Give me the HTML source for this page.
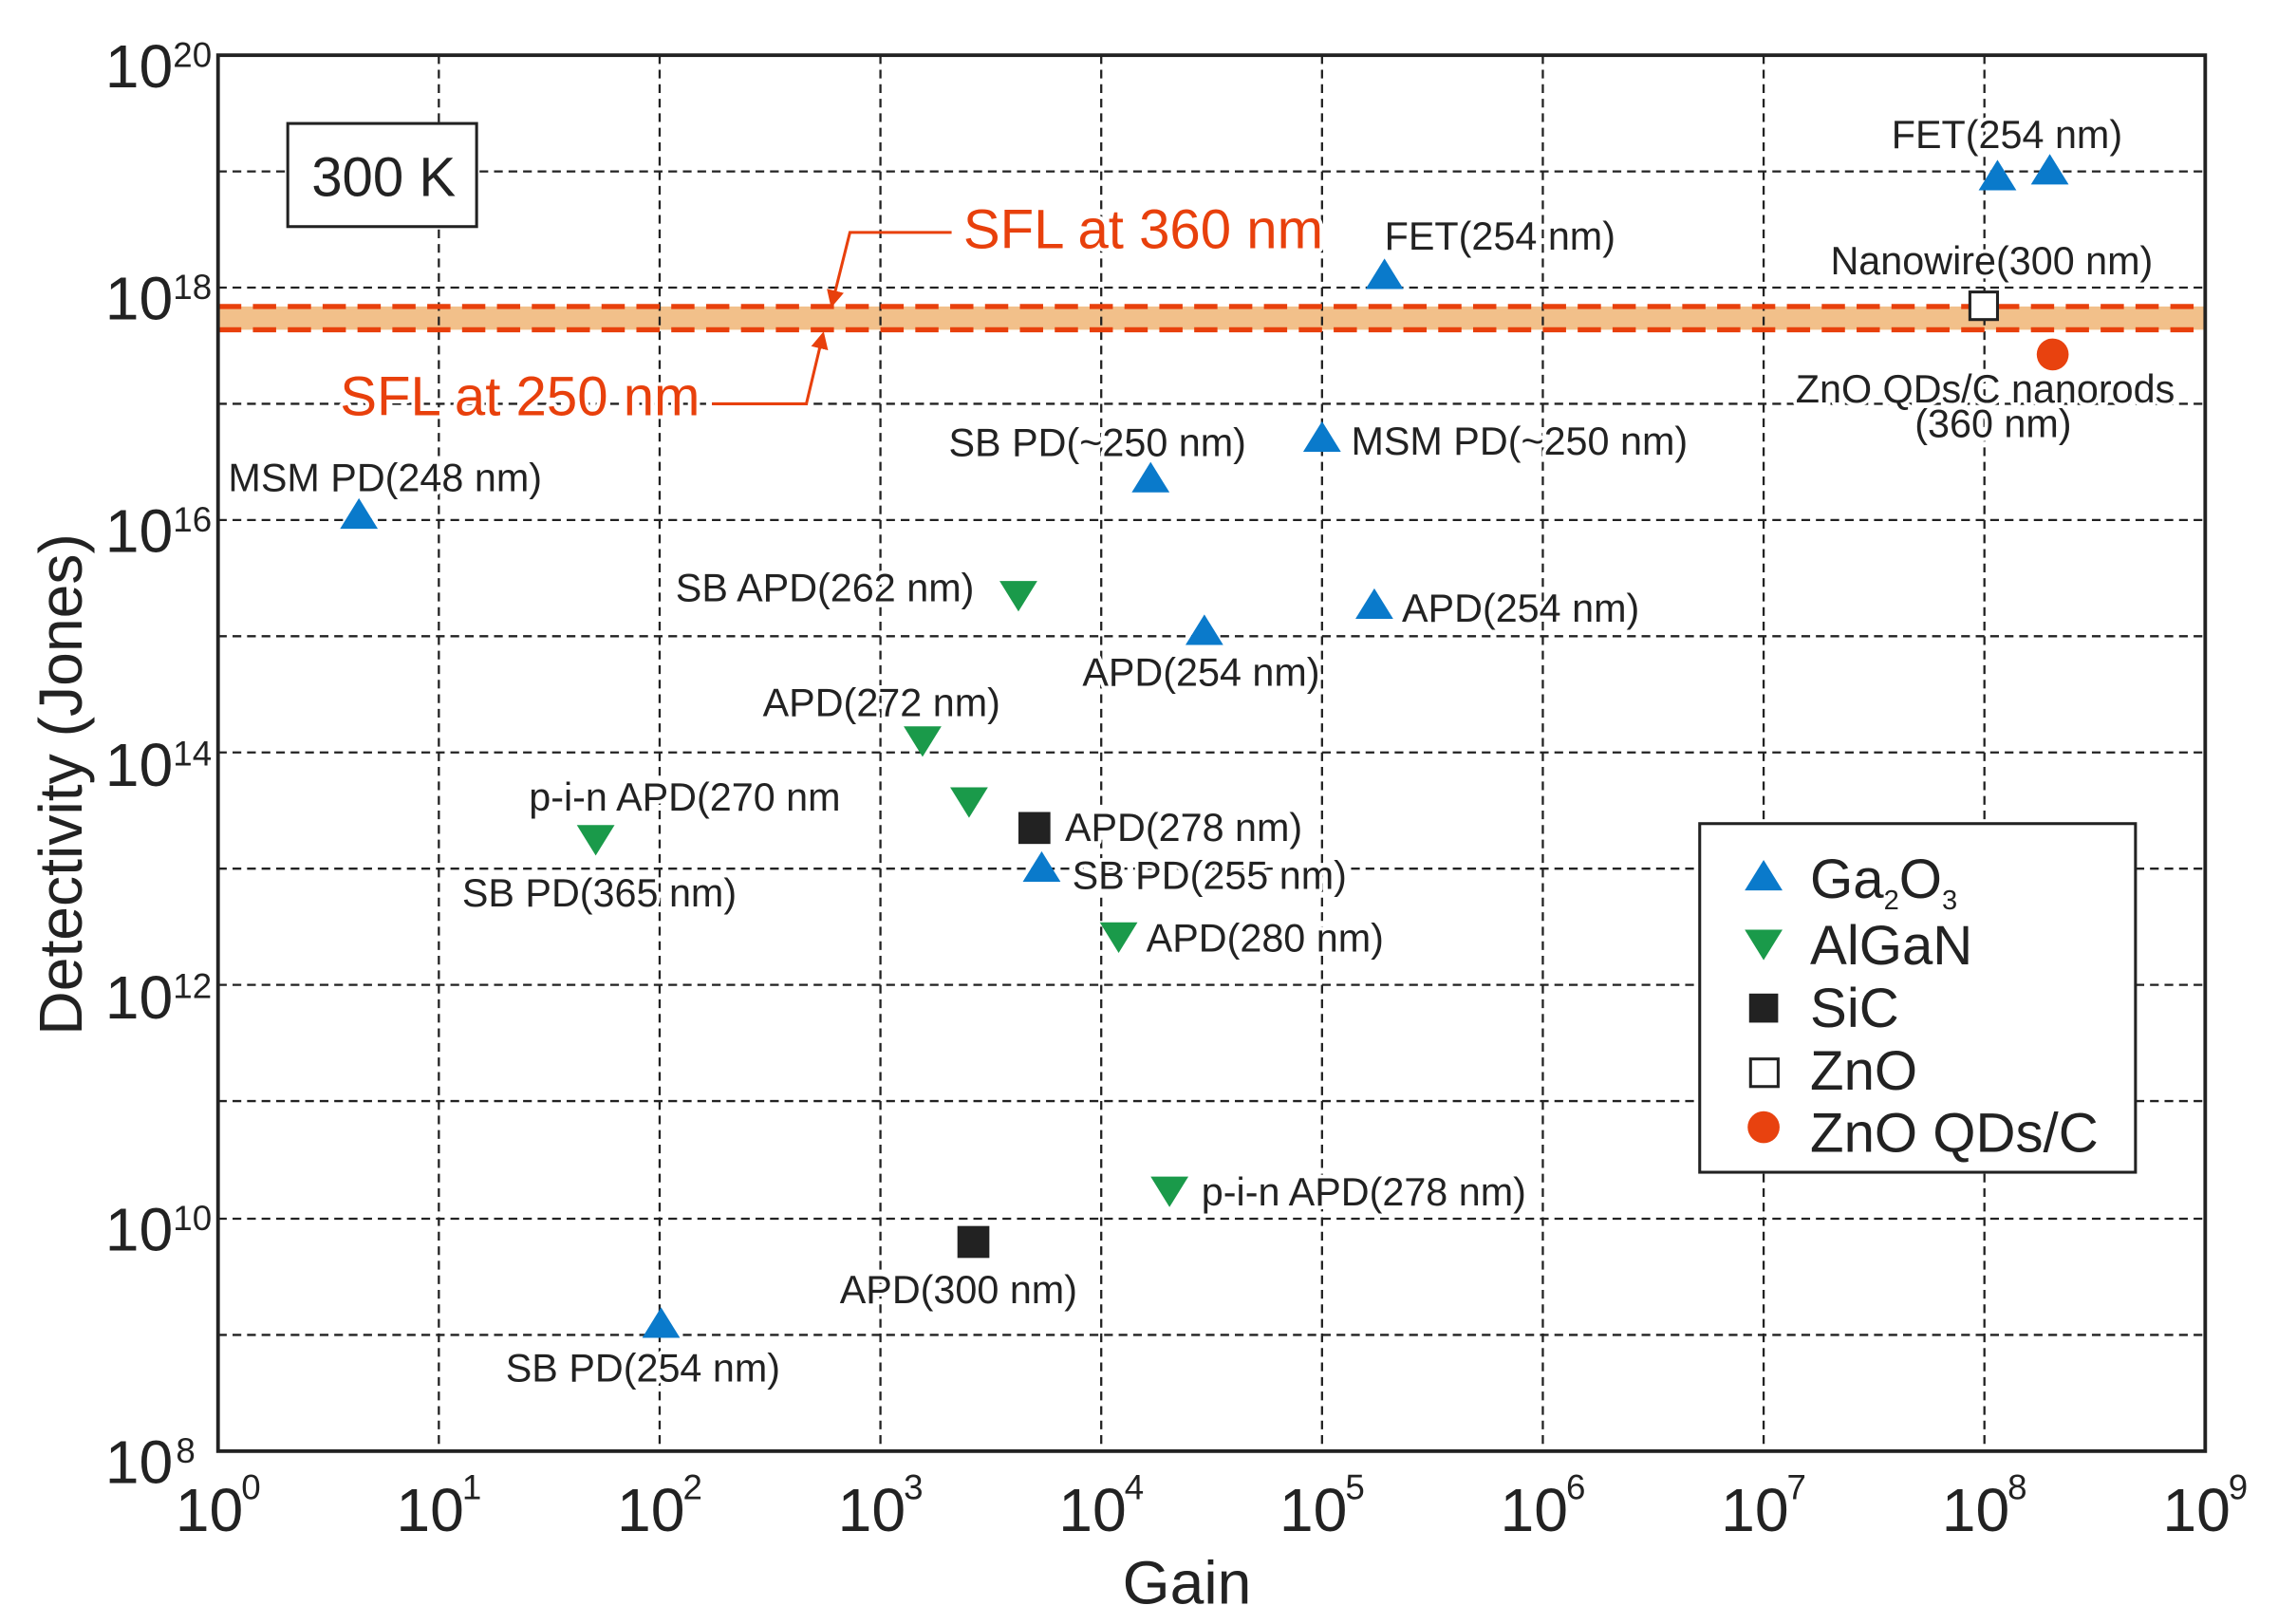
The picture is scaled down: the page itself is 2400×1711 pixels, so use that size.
<!DOCTYPE html>
<html><head><meta charset="utf-8"><style>
html,body{margin:0;padding:0;background:#fff;}
svg{display:block;}
text{font-family:"Liberation Sans",Arial,sans-serif;fill:#222;}
.lb text{paint-order:stroke;stroke:#fff;stroke-width:5px;stroke-linejoin:round;}
</style></head><body>
<svg width="2400" height="1711" viewBox="0 0 1568 1118" xmlns="http://www.w3.org/2000/svg">
<defs>
<marker id="ar" markerWidth="8" markerHeight="8" refX="4" refY="4" orient="auto"><path d="M0,1 L6,4 L0,7 Z" fill="#e8400c"/></marker>
</defs>
<rect x="0" y="0" width="1568" height="1118" fill="#fff"/>
<rect x="150" y="211" width="1368" height="16" fill="#f2c08a"/>
<g stroke="#222" stroke-width="1.5" stroke-dasharray="6,4">
<line x1="302" y1="38" x2="302" y2="999"/><line x1="454" y1="38" x2="454" y2="999"/>
<line x1="606" y1="38" x2="606" y2="999"/><line x1="758" y1="38" x2="758" y2="999"/>
<line x1="910" y1="38" x2="910" y2="999"/><line x1="1062" y1="38" x2="1062" y2="999"/>
<line x1="1214" y1="38" x2="1214" y2="999"/><line x1="1366" y1="38" x2="1366" y2="999"/>
<line x1="150" y1="118" x2="1518" y2="118"/><line x1="150" y1="198" x2="1518" y2="198"/>
<line x1="150" y1="278" x2="1518" y2="278"/><line x1="150" y1="358" x2="1518" y2="358"/>
<line x1="150" y1="438" x2="1518" y2="438"/><line x1="150" y1="518" x2="1518" y2="518"/>
<line x1="150" y1="598" x2="1518" y2="598"/><line x1="150" y1="678" x2="1518" y2="678"/>
<line x1="150" y1="758" x2="1518" y2="758"/><line x1="150" y1="839" x2="1518" y2="839"/>
<line x1="150" y1="919" x2="1518" y2="919"/>
</g>
<g stroke="#e8400c" stroke-width="3.5" stroke-dasharray="16,8">
<line x1="150" y1="211" x2="1518" y2="211"/><line x1="150" y1="227" x2="1518" y2="227"/>
</g>
<rect x="150" y="38" width="1368" height="961" fill="none" stroke="#222" stroke-width="2.5"/>
<g font-size="42" text-anchor="end">
<text x="119" y="60">10</text><text x="119" y="220">10</text><text x="119" y="380">10</text>
<text x="119" y="541">10</text><text x="119" y="701">10</text><text x="119" y="861">10</text><text x="119" y="1021">10</text>
</g>
<g font-size="24">
<text x="119" y="46">20</text><text x="119" y="206">18</text><text x="119" y="366">16</text>
<text x="119" y="527">14</text><text x="119" y="687">12</text><text x="119" y="847">10</text><text x="121" y="1007">8</text>
</g>
<g font-size="42" text-anchor="middle">
<text x="144" y="1054">10</text><text x="296" y="1054">10</text><text x="448" y="1054">10</text><text x="600" y="1054">10</text>
<text x="752" y="1054">10</text><text x="904" y="1054">10</text><text x="1056" y="1054">10</text><text x="1208" y="1054">10</text>
<text x="1360" y="1054">10</text><text x="1512" y="1054">10</text>
</g>
<g font-size="24">
<text x="166" y="1032">0</text><text x="318" y="1032">1</text><text x="470" y="1032">2</text><text x="622" y="1032">3</text>
<text x="774" y="1032">4</text><text x="926" y="1032">5</text><text x="1078" y="1032">6</text><text x="1230" y="1032">7</text>
<text x="1382" y="1032">8</text><text x="1534" y="1032">9</text>
</g>
<text x="817" y="1104" font-size="42" text-anchor="middle">Gain</text>
<text transform="translate(56,540) rotate(-90)" font-size="42" text-anchor="middle">Detectivity (Jones)</text>
<rect x="198" y="85" width="130" height="71" fill="#fff" stroke="#222" stroke-width="2"/>
<text x="264" y="135" font-size="38" text-anchor="middle">300 K</text>
<g class="lb">
<text x="663" y="171" font-size="38" style="fill:#e8400c">SFL at 360 nm</text>
<text x="234" y="286" font-size="38" style="fill:#e8400c">SFL at 250 nm</text>
</g>
<polyline points="655,160 585,160 573,208" fill="none" stroke="#e8400c" stroke-width="2" marker-end="url(#ar)"/>
<polyline points="490,278 555,278 566,232" fill="none" stroke="#e8400c" stroke-width="2" marker-end="url(#ar)"/>
<g class="lb" font-size="27">
<text x="1302" y="102">FET(254 nm)</text>
<text x="953" y="172">FET(254 nm)</text>
<text x="1260" y="189">Nanowire(300 nm)</text>
<text x="1236" y="277">ZnO QDs/C nanorods</text>
<text x="1318" y="301">(360 nm)</text>
<text x="653" y="314">SB PD(~250 nm)</text>
<text x="930" y="313">MSM PD(~250 nm)</text>
<text x="157" y="338">MSM PD(248 nm)</text>
<text x="465" y="414">SB APD(262 nm)</text>
<text x="965" y="428">APD(254 nm)</text>
<text x="745" y="472">APD(254 nm)</text>
<text x="525" y="493">APD(272 nm)</text>
<text x="364" y="558">p-i-n APD(270 nm</text>
<text x="733" y="579">APD(278 nm)</text>
<text x="738" y="612">SB PD(255 nm)</text>
<text x="318" y="624">SB PD(365 nm)</text>
<text x="789" y="655">APD(280 nm)</text>
<text x="827" y="830">p-i-n APD(278 nm)</text>
<text x="578" y="897">APD(300 nm)</text>
<text x="348" y="951">SB PD(254 nm)</text>
</g>
<g fill="#0a7acb">
<path d="M247,343 l13,21 h-26z"/><path d="M455,900 l13,21 h-26z"/><path d="M717,586 l13,21 h-26z"/>
<path d="M792,318 l13,21 h-26z"/><path d="M829,423 l13,21 h-26z"/><path d="M910,290 l13,21 h-26z"/>
<path d="M946,405 l13,21 h-26z"/><path d="M953,178 l13,21 h-26z"/><path d="M1375,110 l13,21 h-26z"/>
<path d="M1411,106 l13,21 h-26z"/>
</g>
<g fill="#1a9a4a">
<path d="M410,589 l13,-21 h-26z"/><path d="M635,521 l13,-21 h-26z"/><path d="M667,563 l13,-21 h-26z"/>
<path d="M701,421 l13,-21 h-26z"/><path d="M770,656 l13,-21 h-26z"/><path d="M805,831 l13,-21 h-26z"/>
</g>
<rect x="701" y="559" width="22" height="22" fill="#222"/>
<rect x="659" y="844" width="22" height="22" fill="#222"/>
<rect x="1356" y="201" width="19" height="19" fill="#fff" stroke="#222" stroke-width="2"/>
<circle cx="1413" cy="244" r="11" fill="#e8420f"/>
<rect x="1170" y="567" width="300" height="240" fill="#fff" stroke="#222" stroke-width="2"/>
<path d="M1214,592 l13,21 h-26z" fill="#0a7acb"/>
<path d="M1214,661 l13,-21 h-26z" fill="#1a9a4a"/>
<rect x="1204" y="684" width="20" height="20" fill="#222"/>
<rect x="1205" y="729" width="19" height="19" fill="#fff" stroke="#222" stroke-width="2"/>
<circle cx="1214" cy="776" r="11" fill="#e8420f"/>
<g font-size="38">
<text x="1246" y="618">Ga<tspan font-size="19" dy="8">2</tspan><tspan dy="-8">O</tspan><tspan font-size="19" dy="8">3</tspan></text>
<text x="1246" y="664">AlGaN</text>
<text x="1246" y="707">SiC</text>
<text x="1246" y="750">ZnO</text>
<text x="1246" y="793">ZnO QDs/C</text>
</g>
</svg>
</body></html>
